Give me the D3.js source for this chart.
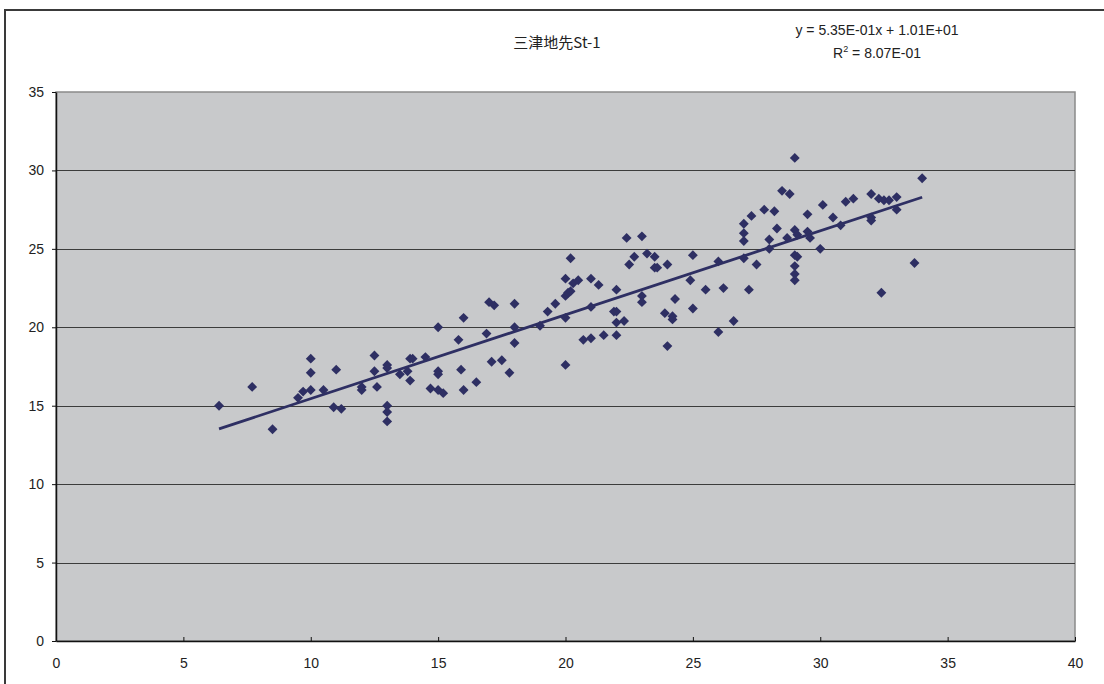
<!DOCTYPE html>
<html>
<head>
<meta charset="utf-8">
<script src="https://cdn.jsdelivr.net/npm/d3@7"></script>
<style>
  body { margin: 0; background: #fff; }
  svg { display: block; font-family: "Liberation Sans", Arial, "Noto Sans CJK JP", sans-serif; }
</style>
</head>
<body>
<svg id="chart" width="1104" height="684"></svg>
<script>
var xVals = [6.4, 7.7, 8.5, 9.5, 9.7, 10.0, 10.0, 10.0, 10.5, 10.9, 11.0, 11.2,
  12.0, 12.0, 12.5, 12.5, 12.6, 13.0, 13.0, 13.0, 13.0, 13.0, 13.5, 13.8, 13.9, 13.9, 14.0,
  14.5, 14.7, 15.0, 15.0, 15.0, 15.0, 15.2, 15.8, 15.9, 16.0, 16.0, 16.5, 16.9, 17.0, 17.2,
  17.1, 17.5, 17.8, 18.0, 18.0, 18.0, 19.0, 19.3, 19.6, 20.0, 20.0, 20.0, 20.0, 20.2, 20.1,
  20.2, 20.3, 20.5, 21.0, 21.3, 21.0, 20.7, 21.0, 21.5, 22.0, 22.0, 21.9, 22.0, 22.0, 22.3,
  22.4, 22.5, 22.7, 23.0, 23.0, 23.0, 23.2, 23.5, 23.5, 23.6, 24.0, 23.9, 24.2, 24.2, 24.3,
  24.0, 24.9, 25.0, 25.0, 25.5, 26.0, 26.0, 26.2, 26.6, 27.0, 27.0, 27.0, 27.0, 27.2, 27.3,
  27.5, 27.8, 28.0, 28.0, 28.2, 28.3, 28.5, 28.8, 28.7, 29.0, 29.0, 29.1, 29.0, 29.1, 29.0,
  29.0, 29.0, 29.5, 29.5, 29.6, 30.0, 30.1, 30.5, 30.8, 31.0, 31.3, 32.0, 32.0, 32.0, 32.3,
  32.5, 32.7, 33.0, 33.0, 32.4, 33.7, 34.0];
var yVals = [15.0, 16.2, 13.5, 15.5, 15.9, 18.0, 17.1, 16.0, 16.0, 14.9, 17.3, 14.8,
  16.2, 16.0, 18.2, 17.2, 16.2, 17.6, 17.4, 15.0, 14.6, 14.0, 17.0, 17.2, 16.6, 18.0, 18.0,
  18.1, 16.1, 20.0, 17.2, 17.0, 16.0, 15.8, 19.2, 17.3, 20.6, 16.0, 16.5, 19.6, 21.6, 21.4,
  17.8, 17.9, 17.1, 21.5, 20.0, 19.0, 20.1, 21.0, 21.5, 23.1, 22.0, 20.6, 17.6, 24.4, 22.2,
  22.3, 22.8, 23.0, 23.1, 22.7, 21.3, 19.2, 19.3, 19.5, 19.5, 22.4, 21.0, 21.0, 20.3, 20.4,
  25.7, 24.0, 24.5, 25.8, 22.0, 21.6, 24.7, 24.5, 23.8, 23.8, 24.0, 20.9, 20.7, 20.5, 21.8,
  18.8, 23.0, 24.6, 21.2, 22.4, 24.2, 19.7, 22.5, 20.4, 26.6, 26.0, 25.5, 24.4, 22.4, 27.1,
  24.0, 27.5, 25.6, 25.0, 27.4, 26.3, 28.7, 28.5, 25.7, 30.8, 26.2, 25.9, 24.6, 24.5, 23.9,
  23.4, 23.0, 27.2, 26.1, 25.7, 25.0, 27.8, 27.0, 26.5, 28.0, 28.2, 28.5, 27.0, 26.8, 28.2,
  28.1, 28.1, 28.3, 27.5, 22.2, 24.1, 29.5];

var xTicks = [0, 5, 10, 15, 20, 25, 30, 35, 40];
var yTicks = [0, 5, 10, 15, 20, 25, 30, 35];

var chartTitle = "三津地先St-1";
var slope = 0.535, intercept = 10.1;
var eqText = "y = 5.35E-01x + 1.01E+01";
var r2Text = "8.07E-01";

var points = xVals.map(function(d, i){ return {x: d, y: yVals[i]}; });

var svg = d3.select("#chart");
var margin = {top: 92, right: 29, bottom: 43, left: 56};
var width = 1104 - margin.left - margin.right;
var height = 684 - margin.top - margin.bottom;

// outer chart frame
svg.append("path")
    .attr("d", "M5,684 V10 H1104")
    .attr("fill", "none")
    .attr("stroke", "#3a3a3a")
    .attr("stroke-width", 2);

var x = d3.scaleLinear().domain([0, 40]).range([0, width]);
var y = d3.scaleLinear().domain([0, 35]).range([height, 0]);

var g = svg.append("g")
    .attr("transform", "translate(" + margin.left + "," + margin.top + ")");

// plot area
g.append("rect")
    .attr("width", width)
    .attr("height", height)
    .attr("fill", "#c8c9cb")
    .attr("stroke", "#8a8a8a")
    .attr("stroke-width", 1.5);

// gridlines
g.selectAll(".grid")
    .data(yTicks.filter(function(d){ return d > 0 && d < 35; }))
    .enter()
    .append("line")
    .attr("class", "grid")
    .attr("x1", 0)
    .attr("x2", width)
    .attr("y1", function(d){ return Math.round(y(d)) + 0.5; })
    .attr("y2", function(d){ return Math.round(y(d)) + 0.5; })
    .attr("stroke", "#3c3c3c")
    .attr("stroke-width", 1);

// axes
var xAxis = d3.axisBottom(x).tickValues(xTicks).tickSizeInner(-4).tickSizeOuter(0).tickPadding(17);
var yAxis = d3.axisLeft(y).tickValues(yTicks).tickSizeInner(4).tickSizeOuter(0).tickPadding(8);

var gx = g.append("g")
    .attr("transform", "translate(0," + height + ")")
    .call(xAxis);
var gy = g.append("g").call(yAxis);

[gx, gy].forEach(function(a){
    a.select(".domain").attr("stroke", "#111").attr("stroke-width", 1.5);
    a.selectAll(".tick line").attr("stroke", "#111");
    a.selectAll("text")
        .attr("font-size", 14)
        .attr("fill", "#222")
        .attr("font-family", "'Liberation Sans', Arial, sans-serif");
});
gx.selectAll("text").attr("dy", "0.71em");

// trend line
var xExt = d3.extent(xVals);
g.append("line")
    .attr("x1", x(xExt[0]))
    .attr("y1", y(slope * xExt[0] + intercept))
    .attr("x2", x(xExt[1]))
    .attr("y2", y(slope * xExt[1] + intercept))
    .attr("stroke", "#2e2f63")
    .attr("stroke-width", 2.8);

// markers
g.selectAll(".pt")
    .data(points)
    .enter()
    .append("path")
    .attr("class", "pt")
    .attr("d", d3.symbol().type(d3.symbolDiamond2).size(62))
    .attr("transform", function(d){ return "translate(" + x(d.x) + "," + y(d.y) + ")"; })
    .attr("fill", "#2e2f63");

// title and equation
svg.append("text")
    .attr("x", 557)
    .attr("y", 48)
    .attr("text-anchor", "middle")
    .attr("font-size", 15)
    .attr("fill", "#222")
    .attr("font-family", "'Noto Sans CJK JP', sans-serif")
    .text(chartTitle);

svg.append("text")
    .attr("x", 877)
    .attr("y", 35)
    .attr("text-anchor", "middle")
    .attr("font-size", 14)
    .attr("fill", "#222")
    .text(eqText);

var r2 = svg.append("text")
    .attr("x", 877)
    .attr("y", 58)
    .attr("text-anchor", "middle")
    .attr("font-size", 14)
    .attr("fill", "#222");
r2.append("tspan").text("R");
r2.append("tspan").attr("dy", -6).attr("font-size", 9).text("2");
r2.append("tspan").attr("dy", 6).text(" = " + r2Text);
</script>
</body>
</html>
